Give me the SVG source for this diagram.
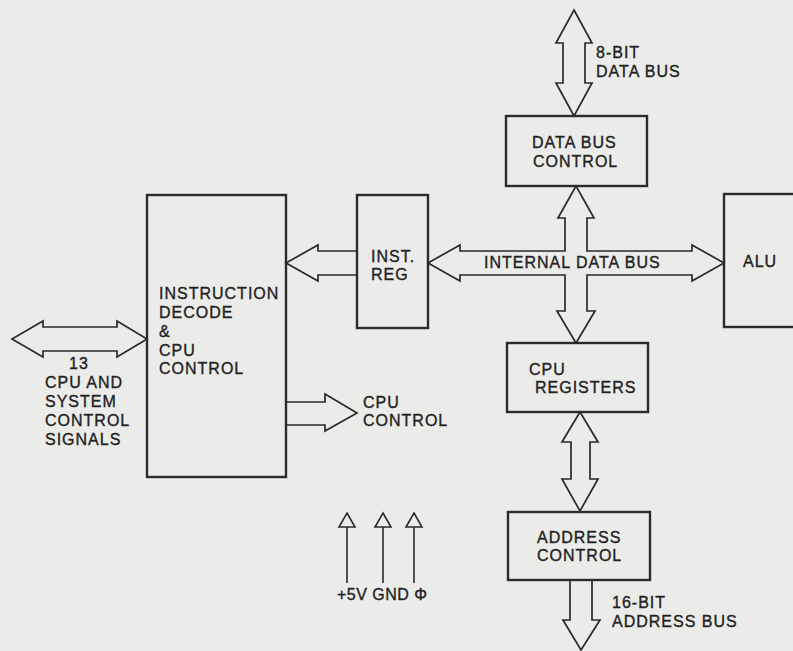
<svg xmlns="http://www.w3.org/2000/svg" width="793" height="651" viewBox="0 0 793 651">
<style>
.box{fill:none;stroke:#2b2b2b;stroke-width:2.4}
.arr{fill:none;stroke:#2b2b2b;stroke-width:1.7;stroke-linejoin:miter}
.pin{fill:none;stroke:#2b2b2b;stroke-width:1.6}
text{font-family:"Liberation Sans",Arial,sans-serif;font-size:16px;letter-spacing:1px;fill:#222;stroke:#222;stroke-width:0.35}
</style>
<rect x="0" y="0" width="793" height="651" fill="#ebebe9"/>
<g id="connectors">
<polygon class="arr" points="574,10 592,43 585,43 585,83 592,83 574,116 556,83 563,83 563,43 556,43"/>
<polygon class="arr" points="12,339 43,321 43,327 117,327 117,321 147,339 117,357 117,351 43,351 43,357"/>
<path class="arr" d="M357,251 H318 V245 L286,263 L318,281 V275 H357"/>
<polygon class="arr" points="428,263 460,245 460,251 565,251 565,218 558,218 576,186 594,218 587,218 587,251 692,251 692,245 724,263 692,281 692,275 587,275 587,311 595,311 576,343 557,311 565,311 565,275 460,275 460,281"/>
<polygon class="arr" points="580,412 598,442 590,442 590,479 598,479 580,511 562,479 571,479 571,442 562,442"/>
<path class="arr" d="M570,580 V620 H563 L581,650 L600,620 H592 V580"/>
<path class="arr" d="M286,402 H325 V394 L357,413 L325,431 V425 H286"/>
<g id="power-pins">
<path class="pin" d="M347,513 L355,527 H339 Z M347,527 V583"/>
<path class="pin" d="M383,513 L391,527 H375 Z M383,527 V583"/>
<path class="pin" d="M414,513 L422,527 H406 Z M414,527 V583"/>
</g>
</g>
<g id="instruction-decode">
<rect class="box" x="147" y="195" width="139" height="282"/>
<text x="159" y="299">INSTRUCTION</text>
<text x="159" y="318">DECODE</text>
<text x="159" y="337">&amp;</text>
<text x="159" y="356">CPU</text>
<text x="159" y="374">CONTROL</text>
</g>
<g id="inst-reg">
<rect class="box" x="357" y="195" width="71" height="133"/>
<text x="371" y="262">INST.</text>
<text x="371" y="280">REG</text>
</g>
<g id="data-bus-control">
<rect class="box" x="506" y="116" width="141" height="70"/>
<text x="532" y="148">DATA BUS</text>
<text x="533" y="167">CONTROL</text>
</g>
<g id="cpu-registers">
<rect class="box" x="507" y="343" width="141" height="69"/>
<text x="529" y="375">CPU</text>
<text x="535" y="393">REGISTERS</text>
</g>
<g id="address-control">
<rect class="box" x="508" y="512" width="142" height="68"/>
<text x="537" y="543">ADDRESS</text>
<text x="537" y="561">CONTROL</text>
</g>
<g id="alu">
<rect class="box" x="724" y="194" width="90" height="133"/>
<text x="743" y="267">ALU</text>
</g>
<g id="labels">
<text x="596" y="58">8-BIT</text>
<text x="596" y="77">DATA BUS</text>
<text x="484" y="268">INTERNAL DATA BUS</text>
<text x="79" y="369" text-anchor="middle">13</text>
<text x="45" y="388">CPU AND</text>
<text x="45" y="407">SYSTEM</text>
<text x="45" y="426">CONTROL</text>
<text x="45" y="445">SIGNALS</text>
<text x="363" y="408">CPU</text>
<text x="363" y="426">CONTROL</text>
<text x="337" y="600" style="letter-spacing:0.5px">+5V GND Φ</text>
<text x="612" y="608">16-BIT</text>
<text x="612" y="627">ADDRESS BUS</text>
</g>
</svg>
